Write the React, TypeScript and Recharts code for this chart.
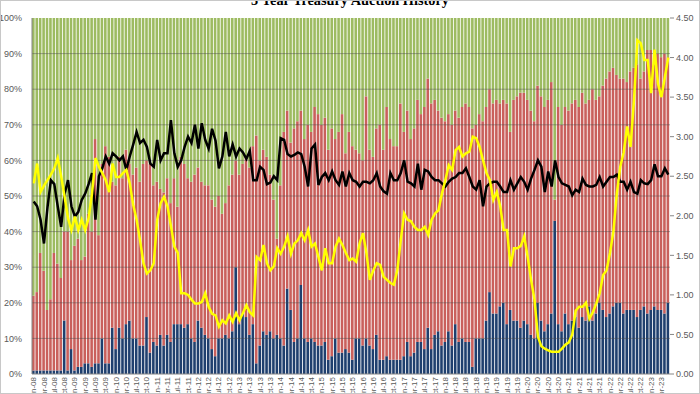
import { ComposedChart, Bar, Line, XAxis, YAxis, ReferenceLine } from "recharts";

// monthly 5y auctions, Jan-08 .. Jun-23
const MONTHS = ["Jan", "Feb", "Mar", "Apr", "May", "Jun", "Jul", "Aug", "Sep", "Oct", "Nov", "Dec"];
const FIRST_YEAR = 2008;

// % of allotment
const directs = [
  1, 1, 1, 1, 1, 1, 1, 1, 1, 15, 1, 7, 1, 2, 2, 3, 3, 2, 3, 3,
  10, 3, 3, 13, 7, 13, 10, 14, 15, 10, 10, 8, 8, 16, 6, 9, 8, 11, 8, 11,
  9, 14, 14, 14, 13, 14, 10, 9, 15, 13, 11, 10, 7, 5, 10, 10, 11, 10, 12, 30,
  14, 17, 16, 11, 14, 3, 8, 12, 11, 12, 10, 11, 10, 8, 24, 18, 9, 10, 25, 10,
  9, 10, 9, 8, 8, 9, 4, 5, 10, 6, 6, 7, 6, 4, 10, 10, 8, 10, 8, 7,
  11, 4, 4, 5, 4, 4, 4, 4, 5, 9, 5, 6, 9, 9, 7, 13, 7, 11, 12, 8,
  9, 12, 8, 14, 9, 10, 9, 9, 2, 10, 10, 10, 15, 23, 17, 17, 19, 20, 14, 18,
  15, 15, 13, 15, 14, 11, 10, 20, 15, 12, 14, 17, 43, 14, 12, 17, 14, 15, 16, 13,
  16, 15, 19, 15, 17, 20, 18, 16, 17, 19, 20, 20, 17, 18, 18, 18, 16, 18, 19, 17,
  18, 19, 18, 18, 17, 20,
];

const indirects = [
  21, 22, 33, 28, 17, 20, 33, 30, 26, 25, 39, 25, 35, 36, 30, 30, 42, 38, 63, 36,
  49, 61, 58, 41, 46, 48, 45, 49, 44, 46, 48, 46, 51, 44, 53, 44, 46, 41, 43, 44,
  39, 41, 33, 47, 46, 41, 44, 47, 43, 41, 42, 43, 42, 42, 40, 35, 37, 43, 44, 30,
  42, 42, 45, 47, 50, 64, 52, 51, 50, 44, 39, 27, 43, 60, 50, 47, 60, 61, 49, 56,
  61, 58, 66, 65, 62, 63, 59, 64, 56, 62, 67, 55, 62, 60, 53, 52, 52, 68, 55, 54,
  58, 66, 59, 70, 62, 60, 60, 72, 63, 65, 61, 63, 68, 64, 68, 70, 69, 66, 62, 64,
  62, 61, 62, 60, 63, 65, 67, 66, 67, 60, 63, 61, 60, 57, 59, 60, 57, 57, 62, 50,
  62, 63, 66, 64, 63, 63, 61, 61, 63, 63, 63, 65, 6, 61, 58, 58, 60, 61, 61, 62,
  63, 61, 58, 65, 60, 58, 63, 67, 68, 67, 64, 63, 66, 64, 67, 68, 71, 65, 66, 74,
  73, 68, 72, 71, 73, 69,
];

const dealers = [
  78, 77, 66, 71, 82, 79, 66, 69, 73, 60, 60, 68, 64, 62, 68, 67, 55, 60, 34, 61,
  41, 36, 39, 46, 47, 39, 45, 37, 41, 44, 42, 46, 41, 40, 41, 47, 46, 48, 49, 45,
  52, 45, 53, 39, 41, 45, 46, 44, 42, 46, 47, 47, 51, 53, 50, 55, 52, 47, 44, 40,
  44, 41, 39, 42, 36, 33, 40, 37, 39, 44, 51, 62, 47, 32, 26, 35, 31, 29, 26, 34,
  30, 32, 25, 27, 30, 28, 37, 31, 34, 32, 27, 38, 32, 36, 37, 38, 40, 22, 37, 39,
  31, 30, 37, 25, 34, 36, 36, 24, 32, 26, 34, 31, 23, 27, 25, 17, 24, 23, 26, 28,
  29, 27, 30, 26, 28, 25, 24, 25, 31, 30, 27, 29, 25, 20, 24, 23, 24, 23, 24, 32,
  23, 22, 21, 21, 23, 26, 29, 19, 22, 25, 23, 18, 51, 25, 30, 25, 26, 24, 23, 25,
  21, 24, 23, 20, 23, 22, 19, 17, 15, 14, 16, 17, 17, 18, 15, 14, 13, 17, 15, 9,
  9, 13, 10, 11, 10, 11,
];

// right axis
const bidToCover = [
  2.18, 2.12, 1.95, 1.65, 2.1, 2.45, 2.4, 2.12, 1.86, 2.28, 2.45, 2.12, 1.99, 2.05, 2.2, 2.28, 2.4, 2.54, 1.95, 2.5,
  2.6, 2.75, 2.66, 2.79, 2.75, 2.7, 2.75, 2.58, 2.75, 2.9, 3.06, 2.92, 2.96, 2.87, 2.66, 2.62, 2.96, 2.7, 2.79, 2.79,
  3.21, 2.79, 2.62, 2.7, 2.87, 3.0, 2.92, 3.15, 2.85, 3.17, 2.96, 2.85, 3.1, 2.95, 2.6, 2.75, 3.06, 2.75, 2.9, 2.75,
  2.85, 2.8, 2.72, 2.82, 2.45, 2.45, 2.62, 2.58, 2.4, 2.42, 2.5, 2.45, 2.98, 2.96, 2.78, 2.75, 2.77, 2.8, 2.78, 2.62,
  2.37, 2.85, 2.9, 2.39, 2.49, 2.54, 2.45, 2.56, 2.45, 2.39, 2.56, 2.37, 2.54, 2.45, 2.43, 2.37, 2.43, 2.43, 2.41, 2.45,
  2.54, 2.37, 2.31, 2.28, 2.54, 2.45, 2.45, 2.54, 2.7, 2.43, 2.41, 2.37, 2.66, 2.33, 2.58, 2.56, 2.49, 2.45, 2.45, 2.41,
  2.37, 2.43, 2.47, 2.49, 2.54, 2.54, 2.6, 2.49, 2.37, 2.33, 2.45, 2.12, 2.37, 2.41, 2.43, 2.43, 2.37, 2.3, 2.3, 2.45,
  2.33, 2.41, 2.49, 2.43, 2.33, 2.47, 2.58, 2.7, 2.62, 2.3, 2.56, 2.37, 2.7, 2.49, 2.41, 2.39, 2.37, 2.26, 2.33, 2.3,
  2.47, 2.39, 2.37, 2.37, 2.39, 2.49, 2.37, 2.43, 2.49, 2.49, 2.52, 2.43, 2.43, 2.33, 2.43, 2.3, 2.28, 2.45, 2.41, 2.4,
  2.45, 2.65, 2.5, 2.5, 2.6, 2.52,
];

const highYield = [
  2.41, 2.66, 2.3, 2.38, 2.45, 2.52, 2.6, 2.73, 2.5, 2.24, 1.97, 1.82, 1.99, 1.82, 1.95, 1.82, 1.97, 2.28, 2.73, 2.62,
  2.54, 2.45, 2.3, 2.66, 2.49, 2.49, 2.54, 2.58, 2.41, 2.14, 1.95, 1.69, 1.4, 1.27, 1.31, 1.4, 1.95, 2.16, 2.24, 2.12,
  1.87, 1.61, 1.53, 1.02, 1.02, 1.0, 0.94, 0.89, 0.89, 0.91, 1.02, 0.85, 0.76, 0.74, 0.6, 0.68, 0.64, 0.74, 0.66, 0.77,
  0.68, 0.77, 0.87, 0.78, 0.74, 1.48, 1.44, 1.63, 1.4, 1.31, 1.36, 1.59, 1.52, 1.61, 1.74, 1.52, 1.65, 1.69, 1.78, 1.69,
  1.82, 1.61, 1.65, 1.48, 1.31, 1.59, 1.4, 1.4, 1.61, 1.71, 1.63, 1.53, 1.44, 1.46, 1.42, 1.65, 1.78, 1.53, 1.19, 1.31,
  1.4, 1.38, 1.23, 1.19, 1.15, 1.13, 1.31, 1.69, 2.03, 1.95, 1.93, 1.86, 1.82, 1.82, 1.86, 1.76, 1.95, 2.03, 2.07, 2.28,
  2.45, 2.64, 2.58, 2.83, 2.87, 2.75, 2.79, 2.81, 3.0, 2.98, 2.87, 2.7, 2.54, 2.45, 2.2, 2.3, 2.12, 1.82, 1.82, 1.36,
  1.59, 1.59, 1.62, 1.74, 1.48, 1.19, 0.94, 0.47, 0.35, 0.32, 0.3, 0.28, 0.28, 0.28, 0.32, 0.37, 0.4, 0.5, 0.8, 0.85,
  0.85, 0.9, 0.7, 0.78, 0.89, 1.02, 1.25, 1.31, 1.53, 1.8, 2.28, 2.62, 2.8, 3.13, 2.87, 3.46, 4.22, 4.18, 3.97, 3.97,
  3.55, 4.1, 3.67, 3.5, 3.75, 4.0,
];

const pctTicks = [0, 10, 20, 30, 40, 50, 60, 70, 80, 90, 100];
const rateTicks = [0, 0.5, 1, 1.5, 2, 2.5, 3, 3.5, 4, 4.5];

const data = directs.map((d, i) => ({
  month: MONTHS[i % 12] + "-" + String((FIRST_YEAR + Math.floor(i / 12)) % 100).padStart(2, "0"),
  directs: d,
  indirects: indirects[i],
  dealers: dealers[i],
  btc: bidToCover[i],
  yld: highYield[i],
}));

const axisFont = { fontFamily: "Liberation Sans, Arial, sans-serif", fontSize: 9, fill: "#595959" };

function MonthTick(props: any) {
  const { x, y, payload } = props;
  const ty = y - 5;
  return (
    <text
      x={x}
      y={ty}
      dy="0.32em"
      textAnchor="end"
      transform={`rotate(-90, ${x}, ${ty})`}
      fontFamily="Liberation Sans, Arial, sans-serif"
      fontSize={8}
      fill="#595959"
    >
      {payload.value}
    </text>
  );
}

export default function App() {
  return (
    <div style={{ position: "absolute", left: 0, top: 0, width: 700, height: 394, background: "#fff", overflow: "hidden" }}>
      <div
        style={{
          position: "absolute",
          left: 0,
          width: 700,
          top: -7,
          textAlign: "center",
          fontFamily: "Liberation Serif, Times New Roman, serif",
          fontWeight: "bold",
          fontSize: 14.3,
          lineHeight: "14.3px",
          color: "#000",
        }}
      >
        5 Year Treasury Auction History
      </div>
      <ComposedChart
        width={700}
        height={394}
        data={data}
        margin={{ top: 18, right: 0, bottom: 0, left: 0 }}
        barCategoryGap={0}
      >
        <XAxis
          dataKey="month"
          interval={2}
          height={20}
          tick={<MonthTick />}
          tickLine={false}
          axisLine={{ stroke: "#868686" }}
        />
        <YAxis
          yAxisId="left"
          domain={[0, 100]}
          ticks={pctTicks}
          width={32}
          tickFormatter={(v: number) => v + "%"}
          tick={axisFont}
          tickLine={false}
          tickMargin={4}
          axisLine={{ stroke: "#868686" }}
          allowDataOverflow
        />
        <YAxis
          yAxisId="right"
          orientation="right"
          domain={[0, 4.5]}
          ticks={rateTicks}
          width={30}
          tickFormatter={(v: number) => v.toFixed(2)}
          tick={axisFont}
          tickSize={4}
          tickLine={{ stroke: "#868686" }}
          axisLine={false}
          allowDataOverflow
        />
        <Bar yAxisId="left" dataKey="directs" stackId="a" fill="#1F3F6E" barSize={2.6} isAnimationActive={false} />
        <Bar yAxisId="left" dataKey="indirects" stackId="a" fill="#C9605C" barSize={2.6} isAnimationActive={false} />
        <Bar yAxisId="left" dataKey="dealers" stackId="a" fill="#9DBB61" barSize={2.6} isAnimationActive={false} />
        {pctTicks.slice(1, 10).map((t) => (
          <ReferenceLine key={t} yAxisId="left" y={t} stroke="rgba(70,70,70,0.45)" strokeWidth={1} />
        ))}
        <Line
          yAxisId="right"
          dataKey="btc"
          type="linear"
          stroke="#000000"
          strokeWidth={2.5}
          dot={false}
          isAnimationActive={false}
        />
        <Line
          yAxisId="right"
          dataKey="yld"
          type="linear"
          stroke="#FFFF00"
          strokeWidth={2.5}
          dot={false}
          isAnimationActive={false}
        />
      </ComposedChart>
      <div
        style={{
          position: "absolute",
          left: 0,
          top: 0,
          width: 700,
          height: 394,
          boxSizing: "border-box",
          border: "1px solid #c8c8c8",
          pointerEvents: "none",
        }}
      />
    </div>
  );
}
